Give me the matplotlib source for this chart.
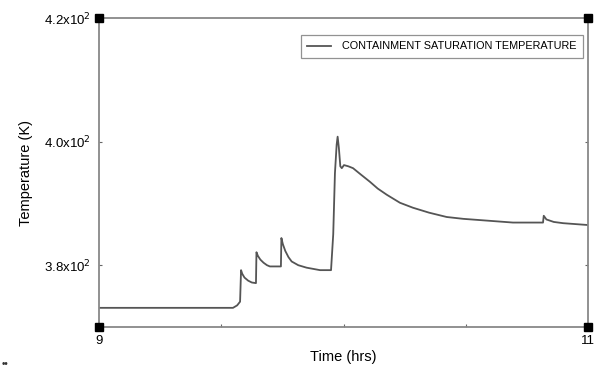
import matplotlib as mpl
mpl.use("Agg")
import matplotlib.pyplot as plt

plt.rcParams['font.family'] = ['Liberation Sans', 'DejaVu Sans']

# time (hrs) and containment saturation temperature (K)
time_hrs = [9.0, 9.3, 9.548, 9.565, 9.577, 9.581, 9.586, 9.595, 9.610, 9.625,
            9.642, 9.644, 9.650, 9.660, 9.673, 9.687, 9.699, 9.744, 9.746,
            9.752, 9.762, 9.775, 9.788, 9.815, 9.849, 9.904, 9.949, 9.958,
            9.965, 9.972, 9.976, 9.981, 9.987, 9.993, 10.002, 10.020, 10.039,
            10.070, 10.108, 10.140, 10.177, 10.231, 10.284, 10.35, 10.422,
            10.49, 10.558, 10.693, 10.816, 10.819, 10.83, 10.86, 10.898, 11.0]
temp_k = [373.1, 373.1, 373.1, 373.5, 374.1, 379.2, 378.6, 378.0, 377.5, 377.2,
          377.1, 382.1, 381.5, 380.9, 380.4, 380.0, 379.8, 379.8, 384.4,
          383.4, 382.3, 381.3, 380.6, 380.0, 379.6, 379.2, 379.2, 385.0,
          394.9, 399.5, 400.8, 399.0, 396.0, 395.7, 396.2, 396.0, 395.7,
          394.7, 393.5, 392.4, 391.4, 390.1, 389.3, 388.5, 387.8,
          387.5, 387.3, 386.9, 386.9, 388.0, 387.4, 387.0, 386.8, 386.5]

x_ticks = [9, 9.5, 10, 10.5, 11]
x_tick_labels = ['9', '', '', '', '11']
y_ticks = [380, 400, 420]
y_tick_labels = ['3.8x10$^{2}$', '4.0x10$^{2}$', '4.2x10$^{2}$']

fig = plt.figure(figsize=(6.04, 3.74), dpi=100)
ax = fig.add_axes([99 / 604, 47 / 374, 489 / 604, 309 / 374])

ax.plot(time_hrs, temp_k, color='#555555', lw=1.3,
        label='CONTAINMENT SATURATION TEMPERATURE')

ax.set_xlim(9, 11)
ax.set_ylim(370, 420)
ax.set_xticks(x_ticks)
ax.set_xticklabels(x_tick_labels)
ax.set_yticks(y_ticks)
ax.set_yticklabels(y_tick_labels)
ax.tick_params(direction='in', length=2, width=0.8, color='#666666',
               labelsize=9.5, pad=6, right=True, top=False)

for s in ax.spines.values():
    s.set_color('#888888')
    s.set_linewidth(1.3)

# black squares at the corners
ax.plot([9, 11, 9, 11], [370, 370, 420, 420], 's', color='black', ms=6,
        clip_on=False, zorder=5)

ax.set_xlabel('Time (hrs)', fontsize=10.5, labelpad=4)
ax.set_ylabel('Temperature (K)', fontsize=10.5, labelpad=8)
ax.xaxis.set_label_coords(0.5, -0.075)

leg = ax.legend(loc='upper right', bbox_to_anchor=(0.99, 0.945), fontsize=7.8,
                frameon=True, fancybox=False, handlelength=2.2,
                borderpad=0.6, handletextpad=1.0, borderaxespad=0)
leg.get_frame().set_edgecolor('#777777')
leg.get_frame().set_linewidth(0.9)

fig.text(2 / 604, 1 - 367 / 374, '\u2022\u2022', fontsize=7, color='#333333')

plt.savefig('out.png', dpi=100)
